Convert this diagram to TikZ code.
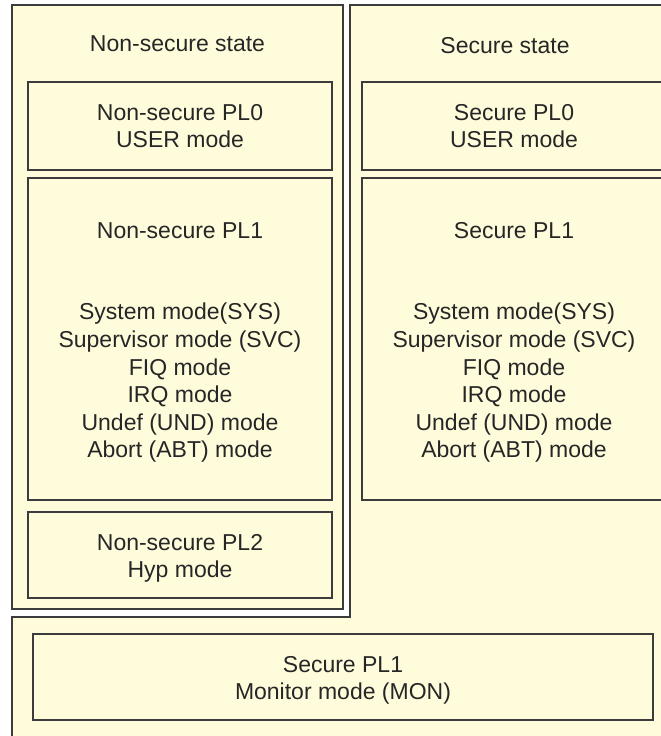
\documentclass[tikz,border=0pt]{standalone}
\usepackage{fontspec}
\setmainfont{Liberation Sans}
\usepackage{xcolor}
\usepackage{tikz}

\definecolor{modefill}{RGB}{255,252,220}
\definecolor{modeline}{RGB}{60,60,60}
\newcommand{\padtop}{\rule{0pt}{23pt}}
\tikzset{
    modetext/.style={text=black!85, align=center, font=\fontsize{23}{27.6}\selectfont},
    modebox/.style={modetext, draw=modeline, fill=modefill, line width=1.6pt, inner sep=0pt},
}

\begin{document}
    \begin{tikzpicture}[x=1pt, y=-1pt]
        \useasboundingbox (0,0) rectangle (661,736);
        \clip (0,0) rectangle (661,736);
        \fill [white] (0,0) rectangle (661,736);
        % secure side runs on round the bottom
        \fill [modefill] (350,5) -- (700,5) -- (700,760) -- (12,760) -- (12,617) -- (350,617) -- cycle;
        \draw [modeline, line width=1.6pt] (700,5) -- (350,5) -- (350,617) -- (12,617) -- (12,760);
        \node [modetext] (stitle) at (505,46) {Secure state};

        \node [modebox, minimum width=331pt, minimum height=604pt] (nsstate) at (177.5,307) {};
        \node [modetext] (nstitle) at (177.5,44) {Non-secure state};

        \node [modebox, minimum width=304pt, minimum height=88pt] (nspl0) at (180,126) {Non-secure PL0\\USER mode};
        \node [modebox, minimum width=304pt, minimum height=322pt] (nspl1) at (180,339) {\padtop Non-secure PL1\\[54pt]System mode(SYS)\\Supervisor mode (SVC)\\FIQ mode\\IRQ mode\\Undef (UND) mode\\Abort (ABT) mode};
        \node [modebox, minimum width=304pt, minimum height=86pt] (nspl2) at (180,555) {\padtop Non-secure PL2\\Hyp mode};

        \node [modebox, minimum width=304pt, minimum height=88pt] (spl0) at (514,126) {Secure PL0\\USER mode};
        \node [modebox, minimum width=304pt, minimum height=322pt] (spl1) at (514,339) {\padtop Secure PL1\\[54pt]System mode(SYS)\\Supervisor mode (SVC)\\FIQ mode\\IRQ mode\\Undef (UND) mode\\Abort (ABT) mode};

        \node [modebox, minimum width=620pt, minimum height=86pt] (mon) at (343,677) {\padtop Secure PL1\\Monitor mode (MON)};
    \end{tikzpicture}
\end{document}
